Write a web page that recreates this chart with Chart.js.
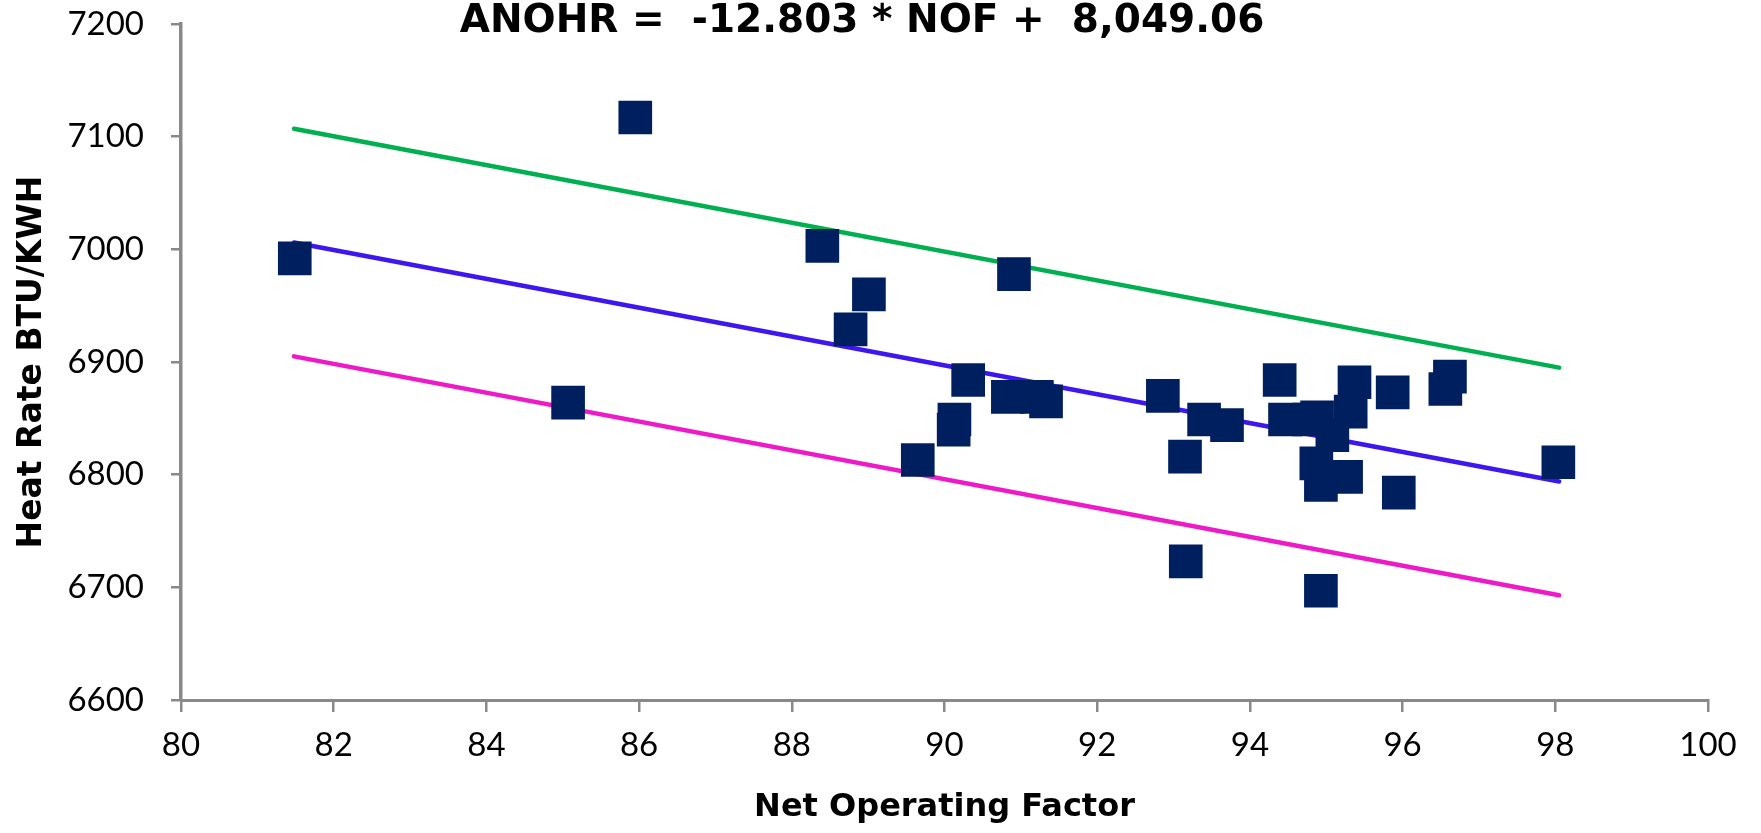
<!DOCTYPE html>
<html>
<head>
<meta charset="utf-8">
<title>ANOHR vs NOF</title>
<script src="https://cdn.jsdelivr.net/npm/chart.js@4.4.1/dist/chart.umd.min.js"></script>
<style>
  html, body { margin: 0; padding: 0; background: #fff; }
  canvas { display: block; }
</style>
</head>
<body>
<canvas id="heatRate" width="1761" height="833"></canvas>
<script>
// unit data
const nof = [81.49, 85.07, 85.95, 88.40, 88.77, 89.01, 89.65, 90.12, 90.13, 90.31,
             90.83, 90.91, 91.21, 91.33, 92.86, 93.15, 93.16, 93.40, 93.70, 94.39,
             94.46, 94.78, 94.88, 94.87, 94.93, 94.93, 95.08, 95.26, 95.32, 95.37,
             95.87, 95.95, 96.56, 96.62, 98.04];
const heatRate = [6992, 6864, 7117, 7003, 6929, 6960, 6813, 6840, 6849, 6884,
                  6869, 6978, 6869, 6865, 6870, 6816, 6723, 6849, 6844, 6884,
                  6849, 6849, 6851, 6810, 6791, 6697, 6835, 6798, 6856, 6882,
                  6873, 6784, 6876, 6887, 6811];

// fit line and the +/- band, end points only
const fitX = [81.48, 98.05];
const fitY = [7006, 6794];
const upperY = [7107, 6895];
const lowerY = [6905, 6693];

const xTicks = [80, 82, 84, 86, 88, 90, 92, 94, 96, 98, 100];
const yTicks = [6600, 6700, 6800, 6900, 7000, 7100, 7200];

const titleText = 'ANOHR =  -12.803 * NOF +  8,049.06';

function pairs(xs, ys) {
    return xs.map((x, i) => ({ x: x, y: ys[i] }));
}

function lineSet(label, ys, color) {
    return {
        label: label,
        data: pairs(fitX, ys),
        showLine: true,
        borderColor: color,
        borderWidth: 4.5,
        borderCapStyle: 'round',
        pointRadius: 0,
        fill: false
    };
}

// equation title sits over the plot, drawn by hand
const equationTitle = {
    id: 'equationTitle',
    afterDraw(chart) {
        const ctx = chart.ctx;
        ctx.save();
        ctx.font = 'bold 39px "DejaVu Sans"';
        ctx.fillStyle = '#000';
        ctx.textAlign = 'center';
        ctx.textBaseline = 'alphabetic';
        ctx.fillText(titleText, 862, 32);
        ctx.restore();
    }
};

const tickFont = { family: 'Lato', size: 33 };
const axisColor = '#898989';

new Chart(document.getElementById('heatRate'), {
    type: 'scatter',
    data: {
        datasets: [
            {
                label: 'Heat Rate',
                data: pairs(nof, heatRate),
                pointStyle: 'rect',
                pointRadius: 23.8,
                pointBorderWidth: 0,
                backgroundColor: '#001F5F',
                borderColor: '#001F5F'
            },
            lineSet('Fit', fitY, '#3D17EE'),
            lineSet('Upper', upperY, '#00B050'),
            lineSet('Lower', lowerY, '#EE1AC8')
        ]
    },
    options: {
        responsive: false,
        devicePixelRatio: 1,
        animation: false,
        layout: { padding: { top: 24, right: 53, bottom: 0, left: 0 } },
        plugins: {
            legend: { display: false },
            tooltip: { enabled: false }
        },
        scales: {
            x: {
                type: 'linear',
                min: 80,
                max: 100,
                afterBuildTicks: (scale) => { scale.ticks = xTicks.map(v => ({ value: v })); },
                afterFit: (scale) => {
                    scale.height = 133;
                    scale.paddingLeft = 0;
                    scale.paddingRight = 0;
                },
                ticks: { font: tickFont, color: '#000', padding: 14, maxRotation: 0, callback: (v) => String(v) },
                grid: { drawOnChartArea: false, color: axisColor, lineWidth: 2.5, tickLength: 12 },
                border: { color: axisColor, width: 3 },
                title: {
                    display: true,
                    text: 'Net Operating Factor',
                    color: '#000',
                    font: { family: 'DejaVu Sans', size: 32, weight: 'bold' },
                    padding: { top: 0, bottom: 6 }
                }
            },
            y: {
                type: 'linear',
                min: 6600,
                max: 7200,
                afterBuildTicks: (scale) => { scale.ticks = yTicks.map(v => ({ value: v })); },
                afterFit: (scale) => {
                    scale.width = 181;
                    scale.paddingTop = 0;
                    scale.paddingBottom = 0;
                },
                ticks: { font: tickFont, color: '#000', padding: 27, callback: (v) => String(v) },
                grid: { drawOnChartArea: false, color: axisColor, lineWidth: 2.5, tickLength: 10 },
                border: { color: axisColor, width: 3.5 },
                title: {
                    display: true,
                    text: 'Heat Rate BTU/KWH',
                    color: '#000',
                    font: { family: 'DejaVu Sans', size: 33, weight: 'bold' },
                    padding: { top: 13, bottom: 0 }
                }
            }
        }
    },
    plugins: [equationTitle]
});
</script>
</body>
</html>
